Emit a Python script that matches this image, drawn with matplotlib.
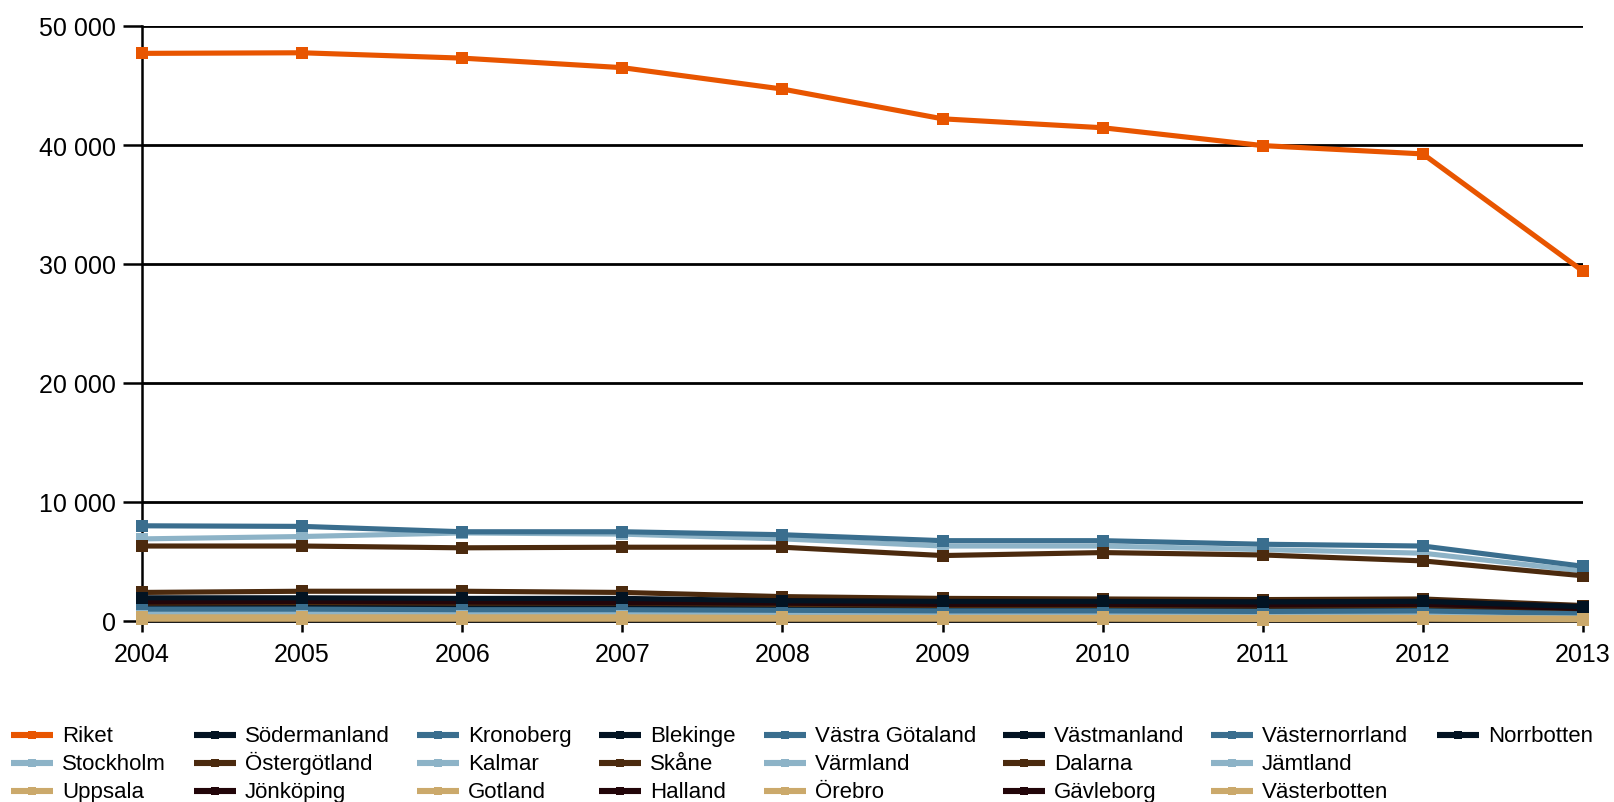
import matplotlib
matplotlib.use("Agg")
import matplotlib.pyplot as plt
from matplotlib.ticker import FuncFormatter

plt.rcParams['font.family'] = ['Liberation Sans', 'DejaVu Sans']

years = [2004, 2005, 2006, 2007, 2008, 2009, 2010, 2011, 2012, 2013]

names = ["Riket", "Stockholm", "Uppsala", "Södermanland", "Östergötland", "Jönköping",
         "Kronoberg", "Kalmar", "Gotland", "Blekinge", "Skåne", "Halland",
         "Västra Götaland", "Värmland", "Örebro", "Västmanland", "Dalarna", "Gävleborg",
         "Västernorrland", "Jämtland", "Västerbotten", "Norrbotten"]

riket = [47700, 47750, 47300, 46500, 44700, 42200, 41450, 39950, 39250, 29400]
stockholm = [6900, 7100, 7400, 7300, 6900, 6300, 6300, 6000, 5700, 4200]
uppsala = [900, 950, 950, 1000, 950, 900, 900, 850, 900, 650]
sodermanland = [1800, 1850, 1800, 1800, 1650, 1550, 1550, 1500, 1550, 1100]
ostergotland = [2400, 2500, 2500, 2400, 2050, 1900, 1850, 1800, 1850, 1300]
jonkoping = [1700, 1750, 1750, 1700, 1700, 1600, 1600, 1600, 1650, 1200]
kronoberg = [900, 900, 850, 850, 800, 750, 750, 700, 750, 500]
kalmar = [700, 700, 650, 700, 650, 600, 600, 600, 600, 400]
gotland = [150, 150, 150, 150, 150, 150, 150, 120, 150, 100]
blekinge = [1100, 1100, 1050, 1050, 1000, 950, 950, 900, 950, 700]
skane = [6300, 6300, 6150, 6200, 6200, 5500, 5750, 5550, 5050, 3800]
halland = [1300, 1350, 1350, 1300, 1250, 1200, 1200, 1200, 1200, 900]
vastra_gotaland = [8000, 7950, 7500, 7500, 7250, 6750, 6750, 6450, 6300, 4600]
varmland = [600, 650, 650, 650, 600, 550, 550, 500, 550, 350]
orebro = [300, 300, 300, 300, 300, 280, 280, 280, 300, 200]
vastmanland = [1400, 1400, 1350, 1350, 1300, 1200, 1200, 1150, 1200, 900]
dalarna = [1500, 1550, 1500, 1500, 1400, 1300, 1300, 1250, 1300, 1000]
gavleborg = [1600, 1650, 1600, 1550, 1500, 1400, 1400, 1350, 1400, 1050]
vasternorrland = [1000, 1000, 950, 950, 900, 850, 850, 800, 850, 600]
jamtland = [400, 400, 400, 400, 350, 350, 350, 350, 350, 250]
vasterbotten = [350, 350, 350, 350, 300, 300, 300, 300, 300, 220]
norrbotten = [1950, 1950, 1900, 1900, 1700, 1650, 1650, 1600, 1650, 1200]

series = [riket, stockholm, uppsala, sodermanland, ostergotland, jonkoping,
          kronoberg, kalmar, gotland, blekinge, skane, halland,
          vastra_gotaland, varmland, orebro, vastmanland, dalarna, gavleborg,
          vasternorrland, jamtland, vasterbotten, norrbotten]

ORANGE = "#E85500"
LIGHTBLUE = "#8DB3C7"
TAN = "#CBA96B"
NAVY = "#021322"
BROWN = "#4B2A0E"
MAROON = "#220509"
STEEL = "#3A6E8E"
colors = [ORANGE, LIGHTBLUE, TAN, NAVY, BROWN, MAROON,
          STEEL, LIGHTBLUE, TAN, NAVY, BROWN, MAROON,
          STEEL, LIGHTBLUE, TAN, NAVY, BROWN, MAROON,
          STEEL, LIGHTBLUE, TAN, NAVY]

W, H = 1615, 803
fig = plt.figure(figsize=(W / 100, H / 100), dpi=100)
ax = fig.add_axes([142 / W, 1 - 622 / H, (1583 - 142) / W, (622 - 27) / H])

for name, vals, c in zip(names, series, colors):
    ax.plot(years, vals, color=c, lw=3.7, marker='s', markersize=9,
            markeredgewidth=0, label=name, clip_on=False, zorder=3)

ax.set_xlim(2004, 2013)
ax.set_ylim(0, 50000)
ax.set_yticks([0, 10000, 20000, 30000, 40000, 50000])
ax.set_xticks(years)
ax.yaxis.set_major_formatter(FuncFormatter(lambda v, p: f"{int(v):,}".replace(",", " ")))
ax.grid(axis='y', color='black', lw=2.0, zorder=1)
ax.set_axisbelow(True)
for s in ['top', 'right']:
    ax.spines[s].set_visible(False)
ax.spines['left'].set_linewidth(1.8)
ax.spines['bottom'].set_linewidth(2.0)
ax.tick_params(axis='y', length=13.7, width=1.8, labelsize=18, pad=5)
ax.tick_params(axis='x', length=8, width=1.8, labelsize=18, pad=7)

# manual legend (3 rows, filled column-wise)
lax = fig.add_axes([0, 0, 1, 1])
lax.set_xlim(0, W)
lax.set_ylim(H, 0)
lax.axis('off')
col_x = [11, 194, 417, 599, 764, 1003, 1211, 1437]
row_y = [737, 765, 793]
hlen = 42
for i, (name, c) in enumerate(zip(names, colors)):
    col, row = divmod(i, 3)
    x0, y0 = col_x[col], row_y[row] - 1
    lax.plot([x0, x0 + hlen], [y0, y0], color=c, lw=4.4, solid_capstyle='butt')
    lax.plot([x0 + hlen / 2], [y0], color=c, marker='s', markersize=6, markeredgewidth=0)
    lax.text(x0 + hlen + 9, y0 + 6, name, fontsize=16, va='baseline', ha='left')

fig.savefig("out.png", dpi=100)
